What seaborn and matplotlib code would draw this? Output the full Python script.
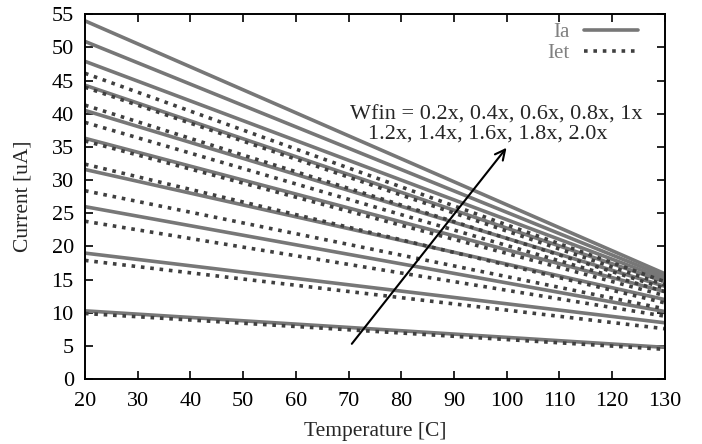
import matplotlib
matplotlib.use("Agg")
import matplotlib.pyplot as plt
import seaborn as sns
import pandas as pd
from matplotlib.lines import Line2D

temps = [20, 130]
wfin = ["0.2x", "0.4x", "0.6x", "0.8x", "1x", "1.2x", "1.4x", "1.6x", "1.8x", "2.0x"]
ia_20 = [10.3, 19.0, 26.0, 31.6, 36.3, 40.5, 44.3, 47.9, 50.9, 54.0]
ia_130 = [4.8, 8.5, 10.2, 12.0, 13.2, 14.0, 14.7, 15.1, 15.5, 15.9]
iet_20 = [9.9, 17.9, 23.8, 28.4, 32.4, 35.9, 38.7, 41.3, 44.0, 46.1]
iet_130 = [4.5, 7.6, 9.5, 10.6, 11.5, 12.6, 13.2, 13.7, 14.2, 14.7]

xticks = [20, 30, 40, 50, 60, 70, 80, 90, 100, 110, 120, 130]
yticks = [0, 5, 10, 15, 20, 25, 30, 35, 40, 45, 50, 55]

rows = []
for i, w in enumerate(wfin):
    rows.append(dict(T=temps[0], I=ia_20[i], w=w, kind="Ia"))
    rows.append(dict(T=temps[1], I=ia_130[i], w=w, kind="Ia"))
    rows.append(dict(T=temps[0], I=iet_20[i], w=w, kind="Iet"))
    rows.append(dict(T=temps[1], I=iet_130[i], w=w, kind="Iet"))
df = pd.DataFrame(rows)

sns.set_theme(style="ticks")
plt.rcParams["font.family"] = ["Liberation Serif", "DejaVu Serif"]

fig = plt.figure(figsize=(7.02, 4.44), dpi=100)
ax = fig.add_axes([0.121, 0.146, 0.826, 0.822])

SOLID = "#777777"
DOT = "#3f3f3f"
DOTSTYLE = (0, (1.0, 1.6))

for w in wfin:
    d = df[(df.w == w) & (df.kind == "Ia")]
    sns.lineplot(data=d, x="T", y="I", ax=ax, color=SOLID, lw=2.6,
                 linestyle="-", legend=False)
for w in wfin:
    d = df[(df.w == w) & (df.kind == "Iet")]
    sns.lineplot(data=d, x="T", y="I", ax=ax, color=DOT, lw=2.6,
                 linestyle=DOTSTYLE, legend=False)

ax.set_xlim(20, 130)
ax.set_ylim(0, 55)
ax.set_xticks(xticks)
ax.set_yticks(yticks)
ax.tick_params(axis="both", which="both", direction="in", length=6, width=1.2,
               top=True, right=True, labelsize=16, colors="black")
ax.tick_params(axis="x", pad=9)
ax.tick_params(axis="y", pad=8)
for s in ax.spines.values():
    s.set_visible(True)
    s.set_linewidth(1.4)
    s.set_color("black")
ax.set_xlabel("Temperature [C]", fontsize=15.5, labelpad=8)
ax.set_ylabel("Current [uA]", fontsize=15.5, labelpad=14)

h1 = Line2D([], [], color=SOLID, lw=2.6)
h2 = Line2D([], [], color=DOT, lw=2.6, linestyle=DOTSTYLE)
leg = ax.legend([h1, h2], ["Ia", "Iet"], loc="upper right", frameon=False,
                markerfirst=False, fontsize=15, handlelength=2.55,
                borderaxespad=0.0, borderpad=0.0, labelspacing=0.1,
                handletextpad=0.7, bbox_to_anchor=(0.953, 0.978))
for t in leg.get_texts():
    t.set_color("#808080")

ax.annotate("", xy=(100.3, 35.2), xytext=(70.3, 5.0),
            arrowprops=dict(arrowstyle="->", color="black", lw=1.5,
                            mutation_scale=18))
ax.text(70.3, 39.8, "Wfin = 0.2x, 0.4x, 0.6x, 0.8x, 1x", fontsize=16,
        va="center", ha="left")
ax.text(73.7, 36.9, "1.2x, 1.4x, 1.6x, 1.8x, 2.0x", fontsize=16,
        va="center", ha="left")

fig.savefig("out.png", dpi=100)
